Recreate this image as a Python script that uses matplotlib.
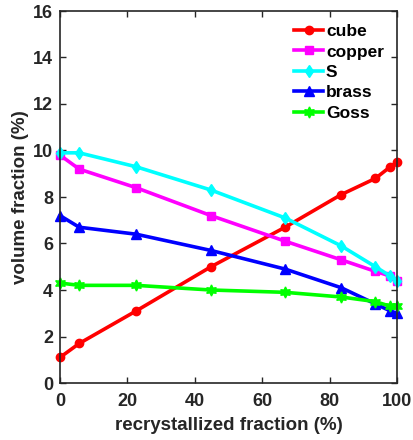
import matplotlib
matplotlib.use("Agg")
import matplotlib.pyplot as plt

# -- Data ---------------------------------------------------------------
recryst = [0, 5.7, 22.6, 44.8, 66.8, 83.4, 93.6, 98.0, 100]
cube = [1.1, 1.7, 3.1, 5.0, 6.7, 8.1, 8.8, 9.3, 9.5]
copper = [9.8, 9.2, 8.4, 7.2, 6.1, 5.3, 4.8, 4.6, 4.4]
s_comp = [9.9, 9.9, 9.3, 8.3, 7.1, 5.9, 5.0, 4.6, 4.4]
brass = [7.2, 6.7, 6.4, 5.7, 4.9, 4.1, 3.4, 3.1, 3.0]
goss = [4.3, 4.2, 4.2, 4.0, 3.9, 3.7, 3.5, 3.3, 3.3]

x_ticks = [0, 20, 40, 60, 80, 100]
y_ticks = [0, 2, 4, 6, 8, 10, 12, 14, 16]

_AX = "#262626"

plt.rcParams["font.family"] = ["Liberation Sans", "DejaVu Sans"]
plt.rcParams["font.weight"] = "bold"

fig = plt.figure(figsize=(4.13, 4.40), dpi=100)
ax = fig.add_axes([60 / 413, 1 - 383 / 440, 337 / 413, 372 / 440])

# (6, 1, 0) -> six-pointed star, like MATLAB's hexagram
series = [
    ("cube", cube, "#ff0000", "o", 6),
    ("copper", copper, "#ff00ff", "s", 5.5),
    ("S", s_comp, "#00ffff", "d", 6.5),
    ("brass", brass, "#0000ff", "^", 6.5),
    ("Goss", goss, "#00ff00", (6, 1, 0), 8),
]
for name, vals, col, mk, ms in series:
    ax.plot(recryst, vals, color=col, linewidth=2.6, marker=mk,
            markersize=ms, label=name, clip_on=False)

ax.set_xlim(0, 100)
ax.set_ylim(0, 16)
ax.set_xticks(x_ticks)
ax.set_yticks(y_ticks)
ax.tick_params(direction="in", top=True, right=True, colors=_AX,
               labelsize=13, length=4, width=1)
ax.tick_params(axis="x", pad=7)
ax.tick_params(axis="y", pad=5)
for lab in ax.get_xticklabels() + ax.get_yticklabels():
    lab.set_fontweight("bold")
for sp in ax.spines.values():
    sp.set_color(_AX)
    sp.set_linewidth(1.2)

ax.set_xlabel("recrystallized fraction (%)", fontsize=13.5, fontweight="bold",
              color=_AX, labelpad=5)
ax.set_ylabel("volume fraction (%)", fontsize=13.5, fontweight="bold",
              color=_AX, labelpad=3)

leg = ax.legend(loc="upper right", frameon=False, fontsize=12.5,
                handlelength=1.7, handletextpad=0.15, labelspacing=0.3,
                borderaxespad=0.35, bbox_to_anchor=(1.0, 1.0))
for t in leg.get_texts():
    t.set_fontweight("bold")

fig.savefig("out.png", dpi=100)
